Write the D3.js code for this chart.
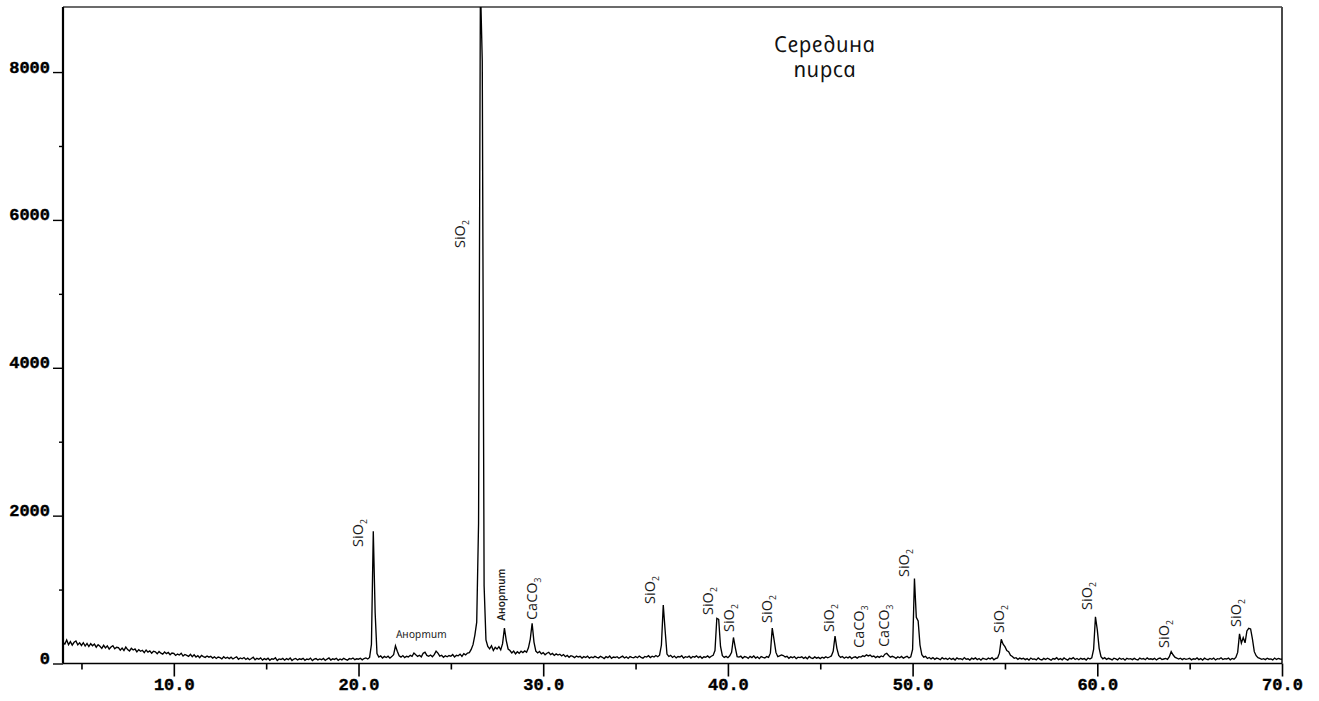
<!DOCTYPE html>
<html>
<head>
<meta charset="utf-8">
<script src="https://cdn.jsdelivr.net/npm/d3@7"></script>
<style>
  body { margin: 0; background: #fff; }
  svg { display: block; }
</style>
</head>
<body>
<svg id="chart" width="1319" height="701"></svg>
<script>
// Diffractogram: 2θ scan from 4.0° to 70.0° with a 0.1° step, intensity in counts.
const scanStart = 4.0;
const scanStep = 0.1;
const counts = [
  // 4.x
  288, 262, 318, 255, 296, 248, 287, 305, 252, 279,
  244, 281, 236, 272, 229, 268, 240, 263, 221, 255,
  232, 205, 246, 210, 238, 196, 224, 241, 199, 220,
  214, 181, 209, 176, 222, 188, 170, 205, 182, 196,
  158, 187, 165, 179, 148, 183, 154, 170, 139, 166,
  158, 131, 162, 140, 127, 155, 133, 149, 118, 142,
  // 10.x
  136, 109, 128, 115, 139, 101, 122, 110, 96, 125,
  92, 117, 88, 105, 79, 110, 94, 83, 102, 86,
  97, 74, 90, 68, 88, 79, 63, 92, 71, 84,
  66, 85, 61, 78, 90, 58, 75, 64, 81, 55,
  72, 51, 67, 84, 49, 70, 57, 76, 46, 66,
  52, 71, 43, 63, 58, 77, 40, 62, 54, 69,
  45, 66, 52, 74, 41, 60, 68, 47, 63, 55,
  70, 44, 61, 53, 72, 39, 58, 66, 48, 62,
  51, 68, 42, 60, 75, 47, 63, 55, 71, 44,
  62, 49, 70, 57, 45, 66, 59, 74, 52, 64,
  // 20.x
  58, 71, 50, 67, 76, 61, 82, 260, 1790, 690,
  135, 88, 102, 74, 96, 81, 99, 72, 93, 118,
  238, 165, 104, 86, 107, 79, 98, 88, 110, 96,
  142, 118, 96, 112, 90, 138, 152, 109, 97, 115,
  92, 120, 168, 140, 99, 112, 84, 105, 91, 108,
  98, 122, 89, 111, 104, 127, 96, 133, 116, 141,
  148, 190, 255, 385, 560, 1900, 9200, 8150, 1050, 320,
  232, 198, 241, 176, 219, 195, 228, 184, 268, 480,
  310, 196, 175, 142, 168, 131, 159, 137, 166, 148,
  170, 152, 212, 330, 545, 290, 168, 143, 162, 130,
  // 30.x
  147, 118, 139, 152, 121, 136, 109, 130, 115, 126,
  103, 121, 92, 110, 84, 105, 96, 79, 101, 88,
  97, 74, 93, 81, 100, 72, 89, 78, 96, 83,
  76, 98, 84, 67, 92, 79, 101, 70, 88, 81,
  92, 71, 86, 99, 75, 90, 69, 94, 82, 77,
  95, 78, 101, 84, 72, 96, 87, 106, 80, 99,
  88, 108, 91, 112, 250, 790, 450, 128, 95, 110,
  82, 101, 76, 94, 88, 105, 73, 92, 84, 99,
  74, 95, 86, 103, 79, 97, 70, 91, 85, 102,
  80, 98, 110, 175, 612, 598, 230, 105, 82, 96,
  // 40.x
  78, 104, 150, 352, 215, 92, 86, 99, 71, 94,
  87, 69, 96, 80, 101, 74, 90, 66, 93, 82,
  75, 94, 83, 140, 478, 320, 150, 92, 104, 115,
  108, 88, 97, 71, 90, 78, 94, 66, 85, 79,
  91, 70, 86, 63, 95, 76, 68, 89, 72, 83,
  66, 85, 73, 92, 77, 88, 102, 165, 372, 205,
  108, 82, 95, 71, 88, 76, 93, 67, 84, 90,
  73, 92, 86, 104, 95, 117, 103, 114, 92, 101,
  80, 96, 83, 102, 91, 126, 138, 108, 86, 97,
  88, 70, 91, 77, 95, 72, 86, 98, 74, 89,
  // 50.x
  190, 1150, 625, 575, 250, 118, 85, 96, 68, 82,
  62, 80, 57, 73, 66, 51, 78, 60, 70, 54,
  74, 55, 69, 48, 77, 61, 66, 52, 80, 58,
  64, 47, 72, 59, 76, 53, 68, 45, 71, 62,
  55, 73, 60, 79, 50, 68, 74, 140, 327, 262,
  228, 175, 160, 112, 95, 70, 79, 57, 73, 62,
  70, 52, 66, 45, 74, 58, 63, 49, 76, 57,
  48, 69, 55, 72, 60, 44, 67, 59, 78, 53,
  66, 50, 75, 58, 46, 71, 62, 80, 54, 68,
  51, 70, 58, 66, 47, 74, 60, 77, 190, 632,
  // 60.x
  455, 205, 92, 64, 79, 55, 70, 61, 48, 72,
  63, 50, 74, 57, 68, 45, 71, 59, 66, 52,
  69, 56, 47, 73, 60, 67, 51, 76, 58, 64,
  55, 70, 48, 65, 74, 53, 61, 69, 57, 92,
  160, 118, 86, 74, 60, 71, 52, 68, 57, 63,
  70, 49, 64, 58, 75, 53, 67, 46, 72, 60,
  52, 68, 57, 73, 48, 65, 59, 77, 54, 66,
  61, 74, 50, 68, 59, 82, 150, 400, 275, 350,
  280, 440, 476, 468, 330, 160, 105, 78, 69, 57,
  66, 52, 71, 58, 63, 49, 74, 55, 68, 61,
  // 70.0
  57
];

// Axis extents and ticks
const thetaDomain = [4, 70];
const countsDomain = [0, 8880];
const xMajorTicks = [10, 20, 30, 40, 50, 60, 70];
const xMinorTicks = [5, 15, 25, 35, 45, 55, 65];
const yMajorTicks = [0, 2000, 4000, 6000, 8000];
const yMinorTicks = [1000, 3000, 5000, 7000];

// Phase annotations: formula, subscript, 2θ and counts of the label's lower end
const phaseFormula = ["SiO", "SiO", "SiO", "SiO", "SiO", "SiO", "SiO", "CaCO", "CaCO", "SiO", "SiO", "SiO", "SiO", "SiO", "CaCO"];
const phaseIndex   = ["2",   "2",   "2",   "2",   "2",   "2",   "2",   "3",    "3",    "2",   "2",   "2",   "2",   "2",   "3"];
const phaseTheta   = [19.95, 25.50, 35.79, 38.93, 40.06, 42.12, 45.48, 47.10, 48.46, 49.54, 54.69, 59.45, 63.62, 67.52, 29.42];
const phaseCounts  = [1576,  5620,  805,   656,   426,   548,   426,   210,   223,   1170,  413,   724,   210,   494,   588];

// Anorthite annotations
const anorthiteName = "Анортит";
const anorthiteFlat = [23.44, 345];   // horizontal label: centre 2θ, baseline counts
const anorthiteUp   = [27.72, 588];   // vertical label: 2θ, counts of lower end

const titleLines = ["Середина", "пирса"];

const svg = d3.select("#chart");
const W = 1319, H = 701;
const plotLeft = 63, plotRight = 1282, plotTop = 7, plotBottom = 663.5;

const x = d3.scaleLinear().domain(thetaDomain).range([plotLeft, plotRight]);
const y = d3.scaleLinear().domain(countsDomain).range([plotBottom, plotTop]);

svg.append("rect").attr("width", W).attr("height", H).attr("fill", "#fff");

svg.append("defs").append("clipPath").attr("id", "plot-clip")
  .append("rect").attr("x", plotLeft).attr("y", plotTop)
  .attr("width", plotRight - plotLeft).attr("height", plotBottom - plotTop);

// frame: top and right edges
svg.append("line").attr("x1", plotLeft).attr("x2", plotRight).attr("y1", plotTop).attr("y2", plotTop)
  .attr("stroke", "#3a3a3a").attr("stroke-width", 1.5);
svg.append("line").attr("x1", plotRight).attr("x2", plotRight).attr("y1", plotTop).attr("y2", plotBottom)
  .attr("stroke", "#4a4a4a").attr("stroke-width", 2);

// pattern
const points = counts.map((c, i) => [scanStart + i * scanStep, c]);
const line = d3.line().x(d => x(d[0])).y(d => y(d[1]));
svg.append("path")
  .datum(points)
  .attr("clip-path", "url(#plot-clip)")
  .attr("fill", "none")
  .attr("stroke", "#000")
  .attr("stroke-width", 1.35)
  .attr("stroke-linejoin", "miter")
  .attr("d", line);

const tickFont = "'Liberation Mono', 'DejaVu Sans Mono', monospace";

// x axis
const gx = svg.append("g").attr("transform", `translate(0,${plotBottom})`);
gx.call(d3.axisBottom(x).tickValues(xMajorTicks).tickSize(13).tickPadding(1.5).tickFormat(d3.format(".1f")));
gx.append("g").call(d3.axisBottom(x).tickValues(xMinorTicks).tickSize(6).tickFormat(""));
gx.selectAll(".domain").remove();
gx.selectAll(".tick line").attr("stroke", "#000").attr("stroke-width", 1.6);
gx.selectAll(".tick text")
  .attr("fill", "#000")
  .attr("stroke", "#000")
  .attr("stroke-width", 0.4)
  .style("font-family", tickFont)
  .style("font-weight", "bold")
  .style("font-size", "17px");

// y axis
const gy = svg.append("g").attr("transform", `translate(${plotLeft},0)`);
gy.call(d3.axisLeft(y).tickValues(yMajorTicks).tickSize(10).tickPadding(3).tickFormat(d3.format("d")));
gy.append("g").call(d3.axisLeft(y).tickValues(yMinorTicks).tickSize(4).tickFormat(""));
gy.selectAll(".domain").remove();
gy.selectAll(".tick line").attr("stroke", "#000").attr("stroke-width", 1.4);
gy.selectAll(".tick text")
  .attr("fill", "#000")
  .attr("stroke", "#000")
  .attr("stroke-width", 0.4)
  .attr("dy", "0")
  .style("font-family", tickFont)
  .style("font-weight", "bold")
  .style("font-size", "17px");

// axis lines
svg.append("line").attr("x1", plotLeft).attr("x2", plotRight).attr("y1", plotBottom).attr("y2", plotBottom)
  .attr("stroke", "#000").attr("stroke-width", 1.6);
svg.append("line").attr("x1", plotLeft).attr("x2", plotLeft).attr("y1", plotTop).attr("y2", plotBottom)
  .attr("stroke", "#000").attr("stroke-width", 2.2);

// phase labels, rotated to read upwards
const labelFont = "'Open Sans', 'Noto Sans', sans-serif";
phaseFormula.forEach((f, i) => {
  const t = svg.append("text")
    .attr("transform", `translate(${x(phaseTheta[i]) + 5},${y(phaseCounts[i])}) rotate(-90)`)
    .attr("fill", "#1a1a1a")
    .style("font-family", labelFont)
    .style("font-size", "14.5px")
    .text(f);
  t.append("tspan").attr("dy", 4).style("font-size", "8.5px").text(phaseIndex[i]);
});

// anorthite labels (italic letterforms set upright)
const italicFont = "'Open Sans', 'Noto Sans', sans-serif";
svg.append("text")
  .attr("transform", `translate(${x(anorthiteFlat[0])},${y(anorthiteFlat[1])}) skewX(12)`)
  .attr("text-anchor", "middle")
  .attr("fill", "#1a1a1a")
  .style("font-family", italicFont)
  .style("font-style", "italic")
  .style("font-size", "11px")
  .text(anorthiteName);
svg.append("text")
  .attr("transform", `translate(${x(anorthiteUp[0]) + 4},${y(anorthiteUp[1])}) rotate(-90) skewX(12)`)
  .attr("fill", "#1a1a1a")
  .style("font-family", italicFont)
  .style("font-style", "italic")
  .style("font-weight", "600")
  .style("font-size", "11px")
  .text(anorthiteName);

// sample title
titleLines.forEach((s, i) => {
  svg.append("text")
    .attr("transform", `translate(826,${52 + i * 25}) skewX(12)`)
    .attr("text-anchor", "middle")
    .attr("fill", "#111")
    .style("font-family", italicFont)
    .style("font-style", "italic")
    .style("font-size", "22px")
    .style("letter-spacing", "0.4px")
    .text(s);
});
</script>
</body>
</html>
